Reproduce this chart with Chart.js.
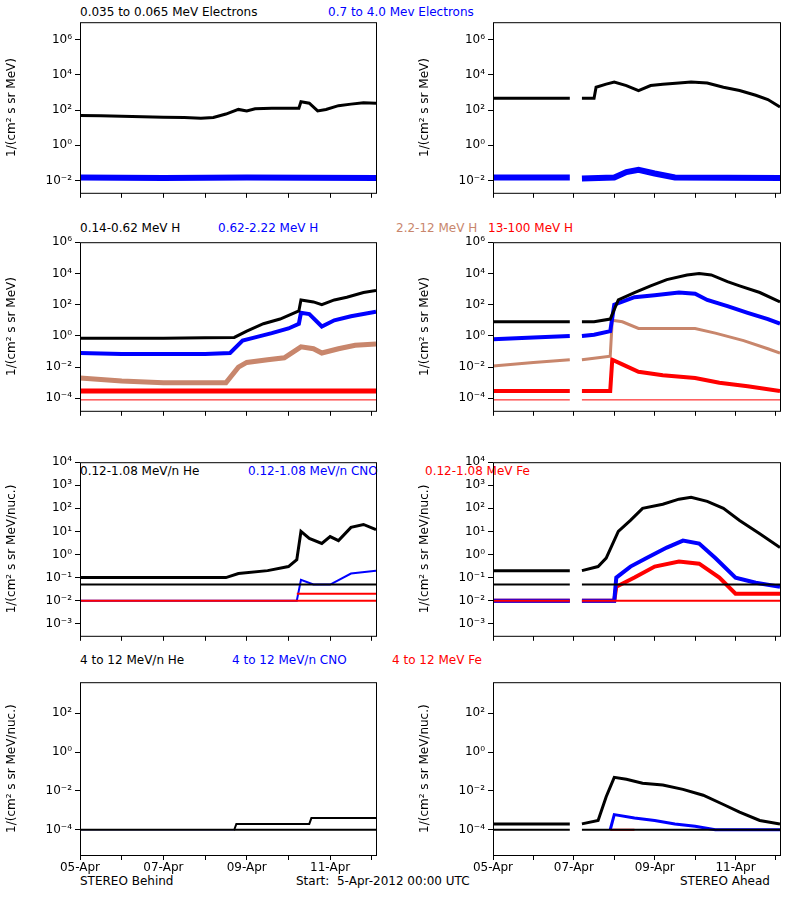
<!DOCTYPE html>
<html>
<head>
<meta charset="UTF-8">
<script src="https://cdn.jsdelivr.net/npm/chart.js"></script>
<style>
  body { margin: 0; background: #fff; width: 800px; height: 900px; position: relative; font-family: "DejaVu Sans", sans-serif; }
  .lbl { position: absolute; font-size: 12px; white-space: pre; }
  canvas { position: absolute; }
</style>
</head>
<body>
<div class="lbl" style="left:80px;top:5px">0.035 to 0.065 MeV Electrons</div>
<div class="lbl" style="left:328px;top:5px;color:#00f">0.7 to 4.0 Mev Electrons</div>
<div class="lbl" style="left:80px;top:221px">0.14-0.62 MeV H</div>
<div class="lbl" style="left:218px;top:221px;color:#00f">0.62-2.22 MeV H</div>
<div class="lbl" style="left:396px;top:221px;color:#c8866c">2.2-12 MeV H</div>
<div class="lbl" style="left:488px;top:221px;color:#f00">13-100 MeV H</div>
<div class="lbl" style="left:80px;top:464px">0.12-1.08 MeV/n He</div>
<div class="lbl" style="left:248px;top:464px;color:#00f">0.12-1.08 MeV/n CNO</div>
<div class="lbl" style="left:425px;top:464px;color:#f00">0.12-1.08 MeV Fe</div>
<div class="lbl" style="left:80px;top:653px">4 to 12 MeV/n He</div>
<div class="lbl" style="left:232px;top:653px;color:#00f">4 to 12 MeV/n CNO</div>
<div class="lbl" style="left:392px;top:653px;color:#f00">4 to 12 MeV Fe</div>
<div class="lbl" style="left:80px;top:874px">STEREO Behind</div>
<div class="lbl" style="left:296px;top:874px">Start:  5-Apr-2012 00:00 UTC</div>
<div class="lbl" style="left:680px;top:874px">STEREO Ahead</div>

<canvas id="c1L"></canvas><canvas id="c1R"></canvas>
<canvas id="c2L"></canvas><canvas id="c2R"></canvas>
<canvas id="c3L"></canvas><canvas id="c3R"></canvas>
<canvas id="c4L"></canvas><canvas id="c4R"></canvas>

<script>
// time in days since 05-Apr-2012 00:00 UTC
const xLabels = { 0: '05-Apr', 2: '07-Apr', 4: '09-Apr', 6: '11-Apr' };
const xMax = 7.1;

// Row 1: electrons
const elecLoB = [[0,50],[0.5,48],[1,45],[1.5,42],[2,40],[2.5,38],[2.9,35],[3.2,38],[3.5,60],[3.8,110],[4.0,90],[4.2,120],[4.6,130],[5.0,130],[5.25,130],[5.3,300],[5.5,250],[5.7,90],[5.9,110],[6.2,180],[6.5,220],[6.8,260],[7.1,250]];
const elecHiB = [[0,0.015],[2,0.014],[4,0.015],[7.1,0.014]];
const elecLoA = [[0,480],[1.9,480],[1.95,null],[2.2,480],[2.5,480],[2.55,2000],[2.8,3000],[3.0,4000],[3.3,2500],[3.6,1300],[3.9,2500],[4.2,3000],[4.6,3500],[4.9,4000],[5.3,3500],[5.7,2000],[6.1,1300],[6.5,700],[6.8,400],[7.1,150]];
const elecHiA = [[0,0.015],[1.9,0.015],[1.95,null],[2.2,0.013],[3.0,0.015],[3.3,0.03],[3.6,0.04],[4.0,0.025],[4.5,0.015],[7.1,0.014]];

// Row 2: protons
const hLoB = [[0,0.7],[1,0.7],[2,0.7],[3,0.75],[3.7,0.8],[4.0,2],[4.4,6],[4.8,12],[5.25,40],[5.3,200],[5.6,150],[5.8,100],[6.1,200],[6.4,300],[6.8,600],[7.1,800]];
const hMidB = [[0,0.08],[1,0.07],[2,0.07],[3,0.07],[3.6,0.08],[3.9,0.5],[4.2,0.8],[4.6,1.5],[5.0,3],[5.25,6],[5.3,30],[5.5,25],[5.8,4],[6.1,10],[6.5,18],[7.1,35]];
const hHiB = [[0,0.002],[1,0.0013],[2,0.001],[3,0.001],[3.5,0.001],[3.8,0.01],[4.0,0.02],[4.5,0.03],[4.9,0.04],[5.3,0.2],[5.6,0.15],[5.8,0.08],[6.2,0.15],[6.6,0.25],[7.1,0.3]];
const hTopB = [[0,3e-4],[3,3e-4],[7.1,3e-4]];
const hTopBaseB = [[0,8e-5],[7.1,8e-5]];
const hLoA = [[0,8],[1.9,8],[1.95,null],[2.2,8],[2.5,8],[2.9,12],[3.1,200],[3.5,600],[3.9,1600],[4.3,4000],[4.8,8000],[5.1,10000],[5.4,8000],[5.8,3000],[6.1,1600],[6.6,600],[7.1,150]];
const hMidA = [[0,0.6],[1,0.8],[1.9,1],[1.95,null],[2.2,1],[2.5,1.2],[2.9,2],[3.0,100],[3.5,300],[4.0,400],[4.6,600],[5.0,500],[5.3,200],[5.8,80],[6.3,30],[6.8,12],[7.1,6]];
const hHiA = [[0,0.012],[1,0.02],[1.9,0.03],[1.95,null],[2.2,0.03],[2.6,0.04],[2.9,0.05],[2.95,10],[3.2,8],[3.6,3],[4.2,3],[5.0,3],[5.5,1.5],[6.2,0.5],[6.8,0.15],[7.1,0.08]];
const hTopA = [[0,3e-4],[1.9,3e-4],[1.95,null],[2.2,3e-4],[2.9,3e-4],[2.95,0.03],[3.2,0.015],[3.6,0.005],[4.2,0.003],[5.0,0.002],[5.6,0.001],[6.3,6e-4],[7.1,3e-4]];
const hTopBaseA = [[0,8e-5],[1.9,8e-5],[1.95,null],[2.2,8e-5],[7.1,8e-5]];

// Row 3: low energy ions
const heB = [[0,0.1],[3.5,0.1],[3.8,0.15],[4.5,0.2],[5.0,0.3],[5.2,0.6],[5.3,10],[5.5,5],[5.8,3],[6.0,6],[6.2,4],[6.5,15],[6.8,20],[7.1,12]];
const heBaseB = [[0,0.05],[7.1,0.05]];
const cnoB = [[0,0.01],[5.2,0.01],[5.3,0.08],[5.6,0.05],[6.0,0.05],[6.5,0.15],[7.1,0.2]];
const feB = [[0,0.01],[7.1,0.01]];
const feB2 = [[5.2,0.02],[7.1,0.02]];
const heA = [[0,0.2],[1.9,0.2],[1.95,null],[2.2,0.2],[2.6,0.3],[2.8,0.7],[3.1,10],[3.4,30],[3.7,100],[4.2,150],[4.6,250],[4.9,300],[5.3,200],[5.7,100],[6.1,30],[6.6,8],[7.1,2]];
const heBaseA = [[0,0.05],[1.9,0.05],[1.95,null],[2.2,0.05],[7.1,0.05]];
const cnoA = [[0,0.01],[1.9,0.01],[1.95,null],[2.2,0.01],[3.0,0.01],[3.05,0.1],[3.4,0.3],[3.8,0.7],[4.3,2],[4.7,4],[5.1,3],[5.5,0.7],[6.0,0.1],[6.5,0.06],[7.1,0.04]];
const feA = [[0,0.01],[1.9,0.01],[1.95,null],[2.2,0.01],[3.0,0.01],[3.05,0.04],[3.5,0.1],[4.0,0.3],[4.6,0.5],[5.1,0.4],[5.6,0.1],[6.0,0.02],[7.1,0.02]];
const feBaseA = [[0,0.01],[1.9,0.01],[1.95,null],[2.2,0.01],[7.1,0.01]];

// Row 4: high energy ions
const he4B = [[0,1e-4],[3.7,1e-4],[3.75,2e-4],[5.5,2e-4],[5.55,4e-4],[7.1,4e-4]];
const he4BaseB = [[3.7,1e-4],[7.1,1e-4]];
const cno4B = [[0,1e-4],[3.7,1e-4]];
const he4A = [[0,2e-4],[1.9,2e-4],[1.95,null],[2.2,2e-4],[2.6,3e-4],[2.8,0.005],[3.0,0.05],[3.3,0.04],[3.7,0.025],[4.2,0.02],[4.7,0.012],[5.2,0.006],[5.7,0.002],[6.1,8e-4],[6.6,3e-4],[7.1,2e-4]];
const he4BaseA = [[0,1e-4],[1.9,1e-4],[1.95,null],[2.2,1e-4],[7.1,1e-4]];
const cno4A = [[2.9,1e-4],[3.0,6e-4],[3.5,4e-4],[4.0,3e-4],[4.5,2e-4],[5.0,1.5e-4],[5.5,1e-4],[7.1,1e-4]];
const fe4A = [[2.9,1e-4],[3.5,1e-4]];

const BLACK = '#000', BLUE = '#0000ff', RED = '#ff0000', BROWN = '#c8866c';
const SUP = { '-': '⁻', '0': '⁰', '1': '¹', '2': '²', '3': '³', '4': '⁴', '5': '⁵', '6': '⁶', '7': '⁷', '8': '⁸', '9': '⁹' };
function pow10(e) { return '10' + String(e).split('').map(c => SUP[c]).join(''); }

function ds(pts, color, w) {
  return {
    data: pts.map(p => ({ x: p[0], y: p[1] })),
    borderColor: color, backgroundColor: color,
    borderWidth: w || 2, pointRadius: 0, spanGaps: false, tension: 0
  };
}

const frame = {
  id: 'frame',
  afterDraw(chart) {
    const a = chart.chartArea, ctx = chart.ctx;
    ctx.save();
    ctx.strokeStyle = '#000'; ctx.lineWidth = 1;
    ctx.strokeRect(a.left + 0.5, a.top + 0.5, a.right - a.left, a.bottom - a.top);
    ctx.restore();
  }
};

function panel(id, left, top, width, height, yMin, yMax, exps, yTitle, showX, sets) {
  const cv = document.getElementById(id);
  const padTop = 8, xH = showX ? 24 : 6;
  cv.style.left = (left - 80) + 'px';
  cv.style.top = (top - padTop) + 'px';
  cv.width = width + 86;
  cv.height = height + padTop + xH;
  new Chart(cv, {
    type: 'line',
    data: { datasets: sets },
    options: {
      responsive: false, animation: false, devicePixelRatio: 1,
      layout: { padding: { left: 5, right: 6, top: padTop, bottom: 0 } },
      plugins: { legend: { display: false }, tooltip: { enabled: false } },
      scales: {
        x: {
          type: 'linear', min: 0, max: xMax,
          afterFit(s) { s.height = xH; },
          afterBuildTicks(s) { s.ticks = [0,1,2,3,4,5,6,7].map(v => ({ value: v })); },
          grid: { drawOnChartArea: false, tickLength: 5, color: '#000' },
          border: { display: false },
          ticks: { display: showX, color: '#000', font: { family: 'DejaVu Sans', size: 12 }, maxRotation: 0, autoSkip: false, padding: 1,
            callback: v => xLabels[v] || '' }
        },
        y: {
          type: 'logarithmic', min: yMin, max: yMax,
          afterFit(s) { s.width = 75; },
          afterBuildTicks(s) { s.ticks = exps.map(e => ({ value: Math.pow(10, e) })); },
          grid: { drawOnChartArea: false, tickLength: 5, color: '#000' },
          border: { display: false },
          ticks: { color: '#000', font: { family: 'DejaVu Sans', size: 12 }, padding: 3,
            callback: v => pow10(Math.round(Math.log10(v))) },
          title: { display: true, text: yTitle, color: '#000', font: { family: 'DejaVu Sans', size: 12 }, padding: 0 }
        }
      }
    },
    plugins: [frame]
  });
}

const t1 = '1/(cm² s sr MeV)', t2 = '1/(cm² s sr MeV/nuc.)';
const ev = [-2, 0, 2, 4, 6];
panel('c1L', 80, 20, 296, 177, 2e-3, 1e7, ev, t1, false, [ds(elecLoB, BLACK, 3), ds(elecHiB, BLUE, 6)]);
panel('c1R', 493, 20, 287, 177, 2e-3, 1e7, ev, t1, false, [ds(elecLoA, BLACK, 3), ds(elecHiA, BLUE, 6)]);
const hv = [-4, -2, 0, 2, 4, 6];
panel('c2L', 80, 240, 296, 175, 1.6e-5, 1e6, hv, t1, false,
  [ds(hLoB, BLACK, 3), ds(hMidB, BLUE, 4), ds(hHiB, BROWN, 5), ds(hTopB, RED, 5), ds(hTopBaseB, RED, 1)]);
panel('c2R', 493, 240, 287, 175, 1.6e-5, 1e6, hv, t1, false,
  [ds(hLoA, BLACK, 3), ds(hMidA, BLUE, 4), ds(hHiA, BROWN, 3), ds(hTopA, RED, 4), ds(hTopBaseA, RED, 1)]);
const iv = [-3, -2, -1, 0, 1, 2, 3, 4];
panel('c3L', 80, 460, 296, 180, 3e-4, 1e4, iv, t2, false,
  [ds(heB, BLACK, 3), ds(heBaseB, BLACK, 2), ds(feB, RED, 2), ds(feB2, RED, 2), ds(cnoB, BLUE, 2)]);
panel('c3R', 493, 460, 287, 180, 3e-4, 1e4, iv, t2, false,
  [ds(heA, BLACK, 3), ds(heBaseA, BLACK, 2), ds(feBaseA, RED, 2), ds(cnoA, BLUE, 4), ds(feA, RED, 4)]);
const fv = [-4, -2, 0, 2];
panel('c4L', 80, 680, 296, 175, 5e-6, 4e3, fv, t2, true,
  [ds(he4B, BLACK, 2), ds(he4BaseB, BLACK, 2), ds(cno4B, BLUE, 1)]);
panel('c4R', 493, 680, 287, 175, 5e-6, 4e3, fv, t2, true,
  [ds(he4A, BLACK, 3), ds(he4BaseA, BLACK, 2), ds(cno4A, BLUE, 3), ds(fe4A, RED, 2)]);
</script>
</body>
</html>
